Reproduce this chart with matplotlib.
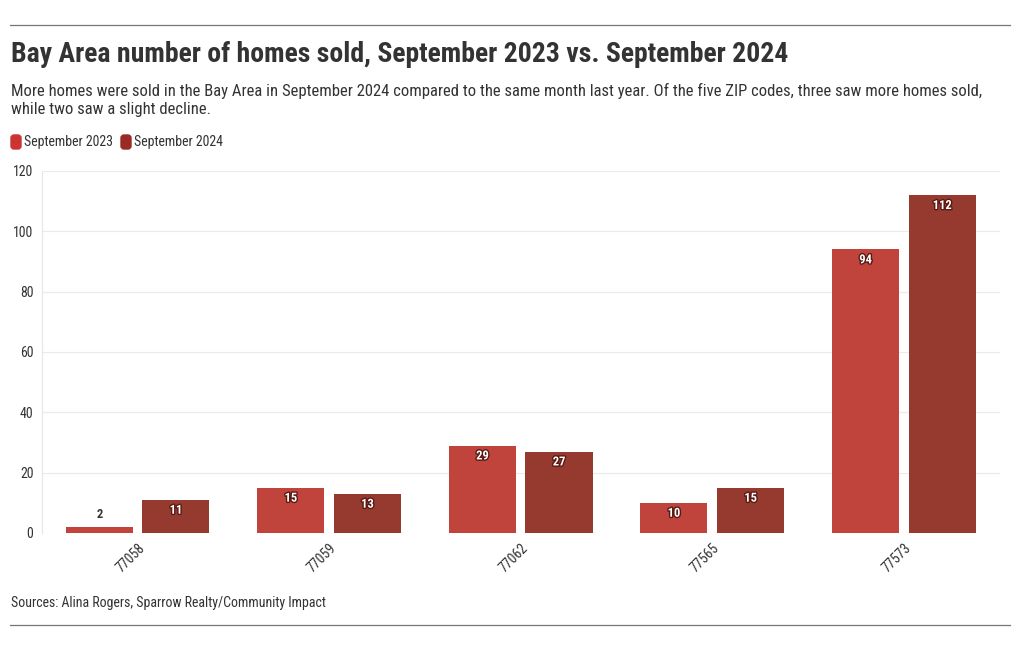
import numpy as np
import matplotlib.pyplot as plt
import matplotlib.patheffects as pe
from matplotlib.lines import Line2D
from matplotlib.patches import FancyBboxPatch

plt.rcParams['font.family'] = ['Roboto Condensed', 'Roboto', 'DejaVu Sans']

zips = ['77058', '77059', '77062', '77565', '77573']
sep_2023 = [2, 15, 29, 10, 94]
sep_2024 = [11, 13, 27, 15, 112]
series_names = ['September 2023', 'September 2024']
colors = ['#c1443c', '#963a2f']
legend_colors = ['#cc3333', '#9b2a22']

fig = plt.figure(figsize=(10.2, 6.5), dpi=100)
ax = fig.add_axes([0.041, 0.18, 0.939, 0.557])

x = np.arange(len(zips))
w = 0.35
for vals, off, c in [(sep_2023, -0.2, colors[0]), (sep_2024, 0.2, colors[1])]:
    bars = ax.bar(x + off, vals, width=w, color=c, zorder=3)
    for b, v in zip(bars, vals):
        if v >= 6:
            ax.text(b.get_x() + b.get_width() / 2, v - 1.3, str(v), ha='center', va='top',
                    fontsize=9, fontweight='bold', color='white', zorder=4,
                    path_effects=[pe.withStroke(linewidth=2, foreground='#5a1a14')])
        else:
            ax.text(b.get_x() + b.get_width() / 2, v + 2, str(v), ha='center', va='bottom',
                    fontsize=9, fontweight='bold', color='#333333', zorder=4)

ax.set_xlim(-0.5, 4.5)
ax.set_ylim(0, 120)
ax.set_yticks(range(0, 121, 20))
ax.set_xticks(x)
ax.set_xticklabels(zips, rotation=45, ha='right', rotation_mode='anchor')
ax.tick_params(axis='both', labelsize=10, colors='#333333', length=0)
ax.tick_params(axis='x', pad=6)
ax.tick_params(axis='y', pad=6)
ax.grid(axis='y', color='#ebebeb', linewidth=0.8, zorder=0)
for s in ['top', 'right', 'bottom']:
    ax.spines[s].set_visible(False)
ax.spines['left'].set_color('#e6e6e6')

# header
fig.add_artist(Line2D([10 / 1020, 1010 / 1020], [1 - 25 / 650] * 2, color='#777777', lw=0.9))
fig.add_artist(Line2D([10 / 1020, 1010 / 1020], [1 - 625 / 650] * 2, color='#777777', lw=0.9))
fig.text(11 / 1020, 1 - 55 / 650, 'Bay Area number of homes sold, September 2023 vs. September 2024',
         fontsize=20, fontweight='bold', color='#333333', va='center')
fig.text(11 / 1020, 1 - 100 / 650,
         'More homes were sold in the Bay Area in September 2024 compared to the same month last year. '
         'Of the five ZIP codes, three saw more homes sold,\nwhile two saw a slight decline.',
         fontsize=12, color='#333333', va='center', linespacing=1.25)

# legend
lx = 11 / 1020
ly = 1 - 142 / 650
for name, c in zip(series_names, legend_colors):
    fig.patches.append(FancyBboxPatch((lx, ly - 7 / 650), 10 / 1020, 14 / 650,
                                      boxstyle='round,pad=0,rounding_size=0.003',
                                      transform=fig.transFigure, color=c, mutation_aspect=1.5))
    t = fig.text(lx + 13 / 1020, ly, name, fontsize=10, color='#333333', va='center')
    fig.canvas.draw()
    bb = t.get_window_extent()
    lx = (bb.x1 + 8) / 1020

fig.text(11 / 1020, 1 - 603 / 650, 'Sources: Alina Rogers, Sparrow Realty/Community Impact',
         fontsize=10, color='#333333', va='center')

fig.savefig('out.png', dpi=100)
